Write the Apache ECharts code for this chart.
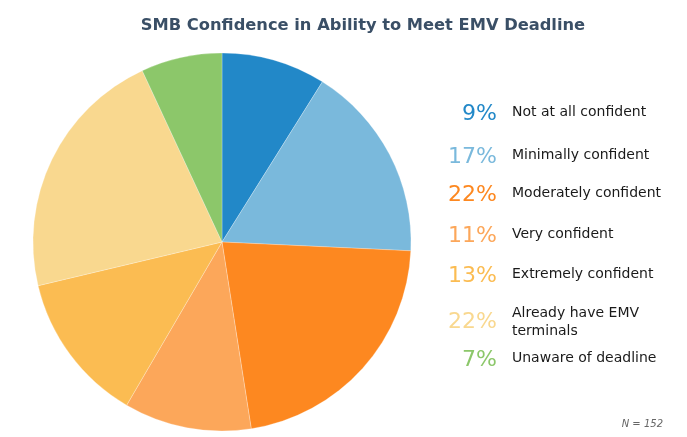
<!DOCTYPE html>
<html>
<head>
<meta charset="utf-8">
<script src="https://cdn.jsdelivr.net/npm/echarts@6/dist/echarts.min.js"></script>
<style>html,body{margin:0;padding:0;background:#fff}#c{width:687px;height:437px}</style>
</head>
<body>
<div id="c"></div>
<script>
const categories = ['Not at all confident','Minimally confident','Moderately confident','Very confident','Extremely confident','Already have EMV terminals','Unaware of deadline'];
const labelLines = ['Not at all confident','Minimally confident','Moderately confident','Very confident','Extremely confident','Already have EMV\nterminals','Unaware of deadline'];
const values = [9,17,22,11,13,22,7];
const colors = ['#2288c8','#7ab9dc','#fd8820','#fca75a','#fbbc52','#f9d88f','#8cc76a'];
const sampleNote = 'N = 152';

// layout (row centres of the legend)
const rowCenter = [112,155,193,234,274,322,358];
const font = 'DejaVu Sans, Verdana, sans-serif';

const legends = [];
categories.forEach((name,i)=>{
  const twoLine = labelLines[i].indexOf('\n')>=0;
  const lh = 18;
  const h = twoLine ? 2*lh : lh;
  legends.push({
    orient:'vertical', data:[name], right:190, top: rowCenter[i]-h/2, padding:0,
    itemWidth:0, itemHeight:0, icon:'circle', selectedMode:false,
    formatter: ()=> values[i]+'%',
    textStyle:{fontFamily:font, fontSize:22, color:colors[i], lineHeight:h}
  });
  legends.push({
    orient:'vertical', data:[name], left:506, top: rowCenter[i]-h/2, padding:0,
    itemWidth:0, itemHeight:0, icon:'circle', selectedMode:false,
    formatter: ()=> labelLines[i],
    textStyle:{fontFamily:font, fontSize:14, color:'#1a1a1a', lineHeight:lh}
  });
});

const chart = echarts.init(document.getElementById('c'));
chart.setOption({
  animation:false,
  title:[{
    text:'SMB Confidence in Ability to Meet EMV Deadline',
    left:358, textAlign:'center', top:13,
    textStyle:{fontFamily:font, fontSize:16.3, fontWeight:'bold', color:'#3a4f66'}
  },{
    text:sampleNote, right:19, top:414,
    textStyle:{fontFamily:font, fontSize:10, fontStyle:'italic', fontWeight:'normal', color:'#666'}
  }],
  legend: legends,
  series:[{
    type:'pie', center:[222,242], radius:189, startAngle:90, clockwise:true,
    label:{show:false}, labelLine:{show:false}, silent:true,
    itemStyle:{borderColor:'rgba(255,255,255,0.5)', borderWidth:0.5},
    data: categories.map((n,i)=>({name:n, value:values[i], itemStyle:{color:colors[i]}}))
  }]
});
</script>
</body>
</html>
